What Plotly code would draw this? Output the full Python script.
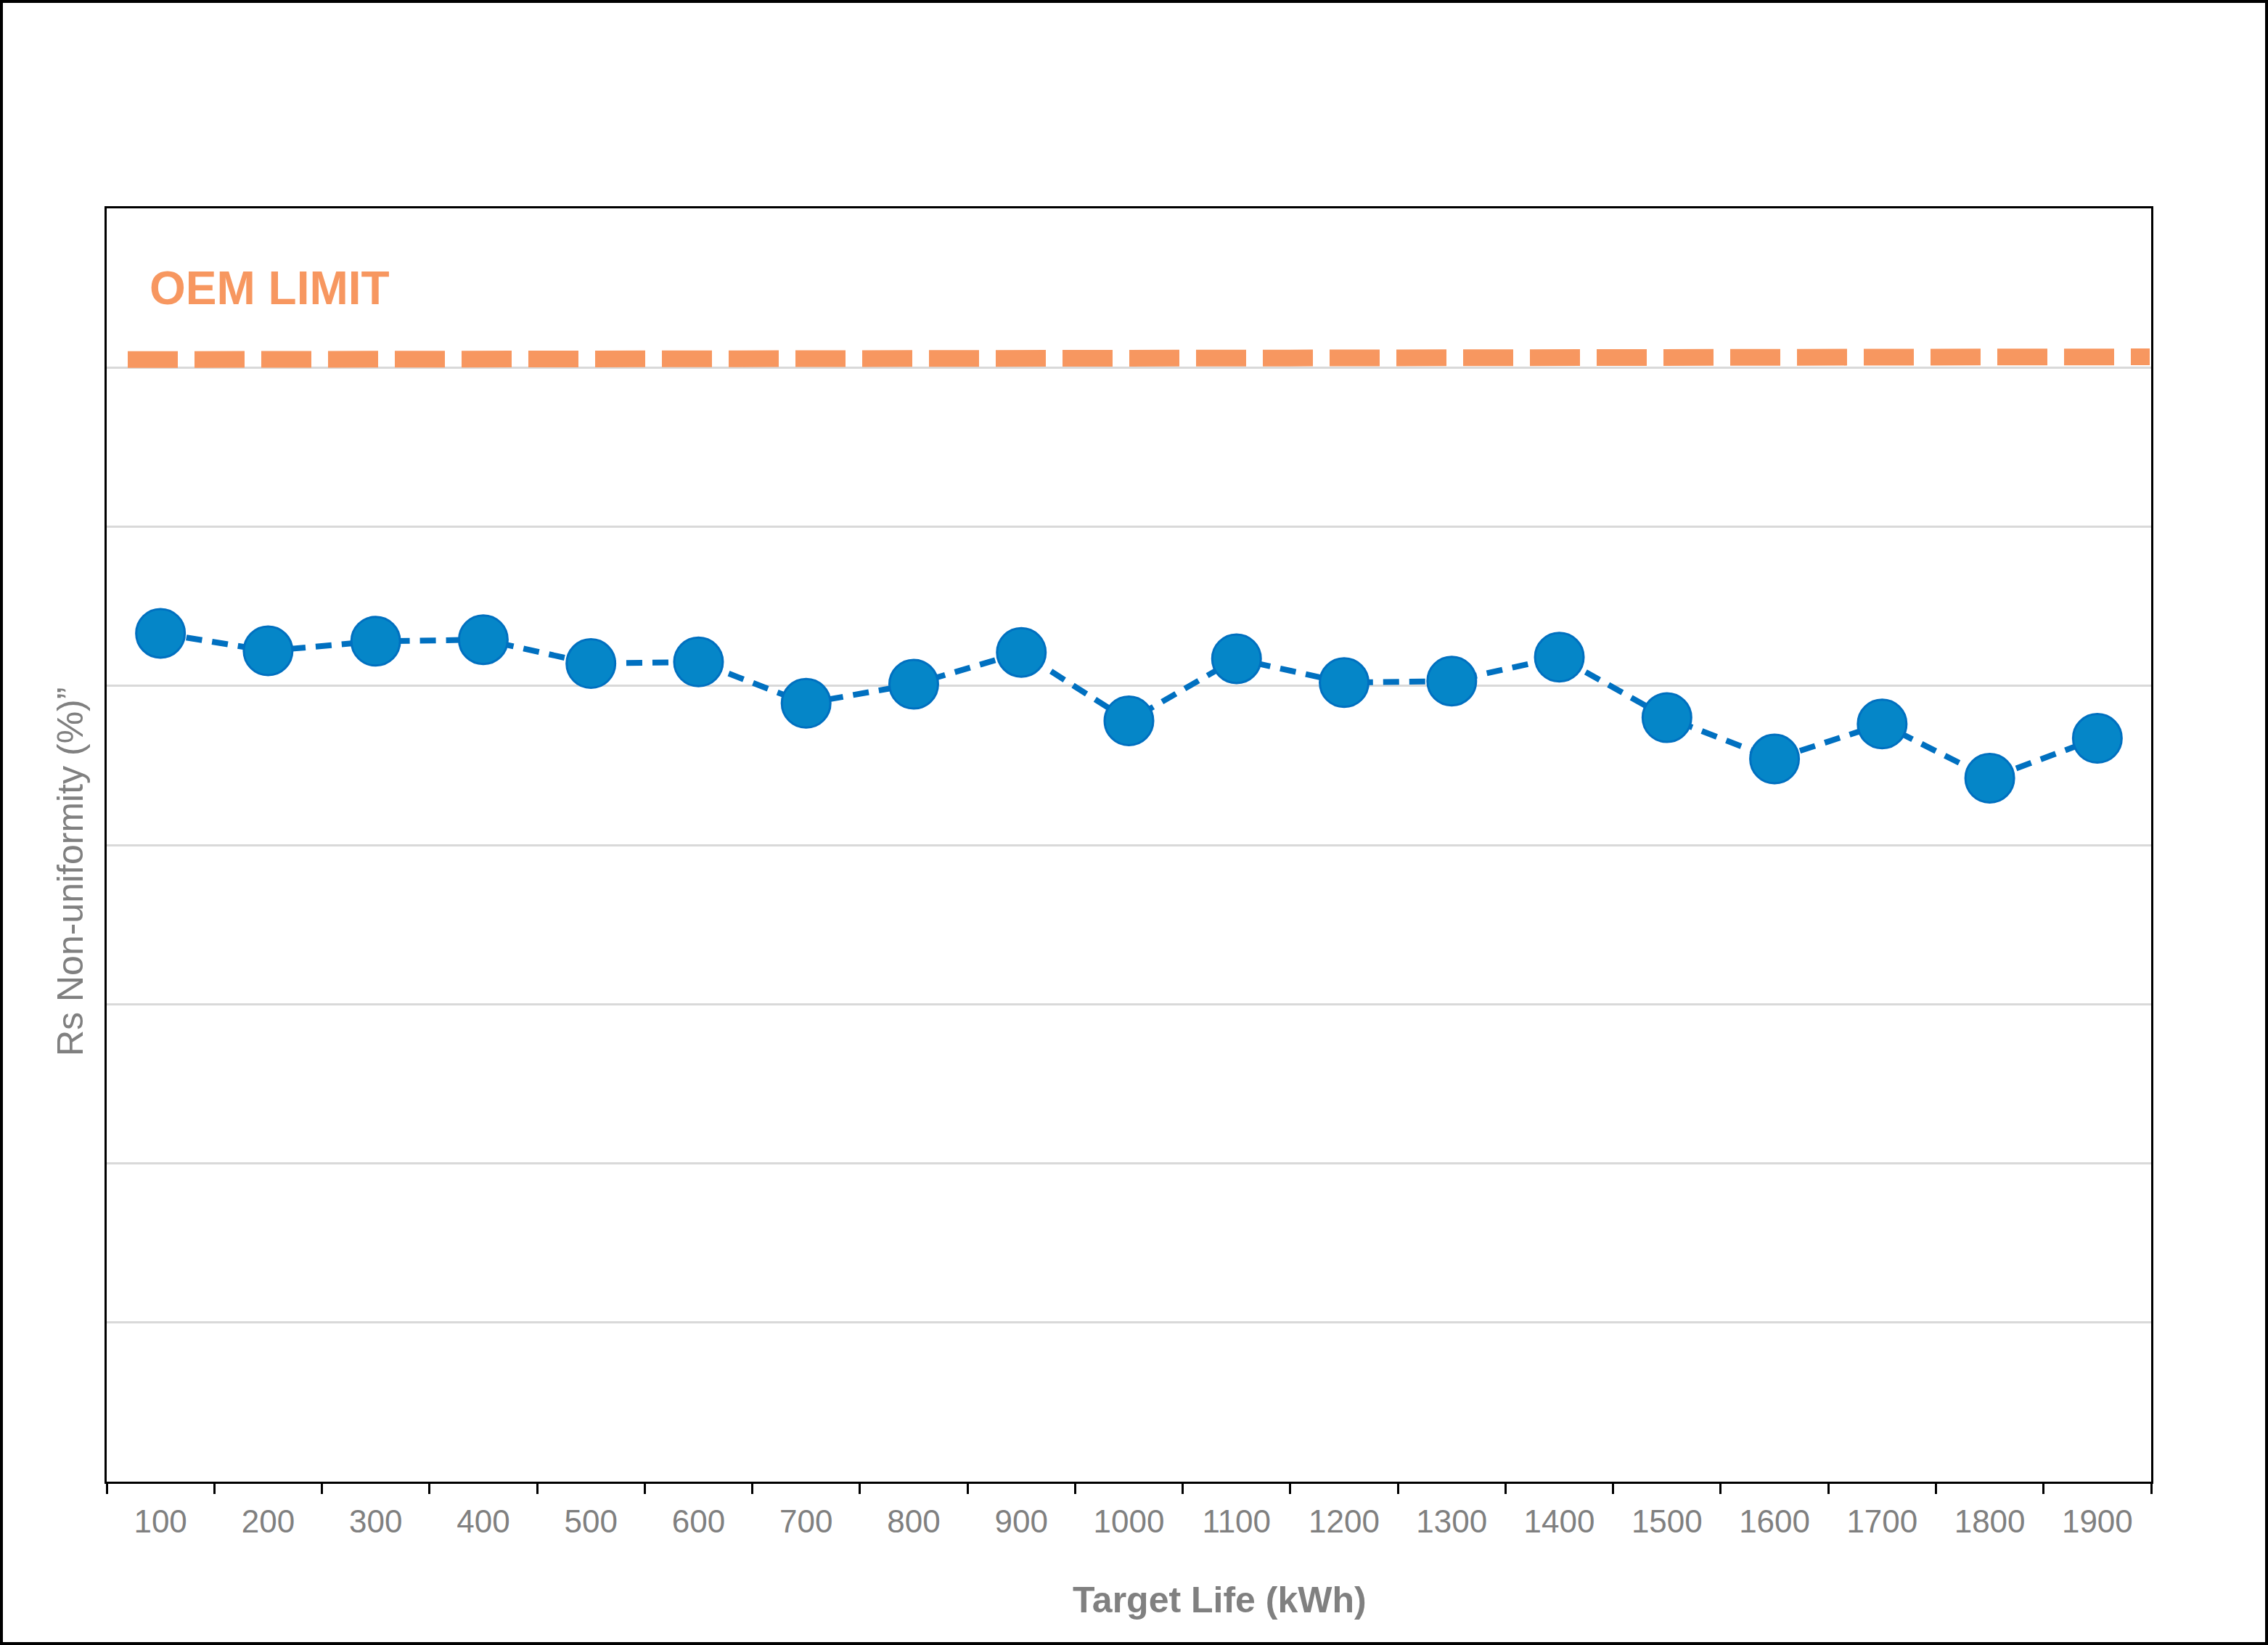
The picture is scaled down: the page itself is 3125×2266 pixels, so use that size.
import plotly.graph_objects as go

# ---- data ----
target_life = ["100", "200", "300", "400", "500", "600", "700", "800", "900", "1000",
               "1100", "1200", "1300", "1400", "1500", "1600", "1700", "1800", "1900"]
rs_nonuniformity = [5.33, 5.22, 5.28, 5.29, 5.14, 5.15, 4.89, 5.01, 5.21, 4.78,
                    5.17, 5.02, 5.03, 5.18, 4.80, 4.54, 4.76, 4.42, 4.67]
oem_limit_start = 7.05
oem_limit_end = 7.067
y_min, y_max, y_step = 0, 8, 1

# ---- layout geometry ----
W, H = 3125, 2266
ML, MR, MT, MB = 147, 161, 287, 225
PW, PH = W - ML - MR, H - MT - MB


def px_x(px):
    return (px - ML) / PW


def px_y(py):
    return (H - MB - py) / PH


FONT = "Arial, Liberation Sans, sans-serif"
GRAY = "#808080"
ORANGE = "#F79760"

fig = go.Figure()
fig.add_trace(go.Scatter(
    x=target_life, y=rs_nonuniformity,
    mode="lines+markers",
    line=dict(color="#0070C0", width=8, dash="22px,14px"),
    marker=dict(size=67, color="#0586C8", line=dict(color="#0070C0", width=3)),
    showlegend=False, hoverinfo="x+y",
))

shapes = [
    # OEM limit dashed line
    dict(type="line", xref="paper", yref="y",
         x0=px_x(176), x1=px_x(2962), y0=oem_limit_start, y1=oem_limit_end,
         line=dict(color=ORANGE, width=23, dash="69px,23px")),
    # outer figure border
    dict(type="rect", xref="paper", yref="paper",
         x0=px_x(2), x1=px_x(W - 2), y0=px_y(H - 2), y1=px_y(2),
         line=dict(color="black", width=4), fillcolor="rgba(0,0,0,0)", layer="above"),
]

annotations = [
    dict(text="<b>OEM LIMIT</b>", xref="paper", yref="paper",
         x=px_x(204), y=px_y(397), xanchor="left", yanchor="middle",
         showarrow=False, font=dict(family=FONT, size=64, color=ORANGE)),
    dict(text="<b>Target Life (kWh)</b>", xref="paper", yref="paper",
         x=px_x(1680), y=px_y(2204), xanchor="center", yanchor="middle",
         showarrow=False, font=dict(family=FONT, size=50, color=GRAY)),
    dict(text="Rs Non-uniformity (%)\u201d", xref="paper", yref="paper",
         x=px_x(97), y=px_y(1201), xanchor="center", yanchor="middle",
         textangle=-90, showarrow=False, font=dict(family=FONT, size=50, color=GRAY)),
]

fig.update_layout(
    width=W, height=H,
    margin=dict(l=ML, r=MR, t=MT, b=MB, pad=0),
    paper_bgcolor="white", plot_bgcolor="white",
    font=dict(family=FONT, color=GRAY),
    shapes=shapes, annotations=annotations,
    xaxis=dict(
        type="category", categoryorder="array", categoryarray=target_life,
        range=[-0.5, len(target_life) - 0.5],
        tickson="boundaries", ticks="outside", ticklen=14, tickwidth=3, tickcolor="black",
        showline=True, linecolor="black", linewidth=3, mirror=True,
        showgrid=False, zeroline=False,
        tickfont=dict(family=FONT, size=44, color=GRAY),
        ticklabelstandoff=14,
    ),
    yaxis=dict(
        range=[y_min, y_max], dtick=y_step, tick0=y_min,
        showticklabels=False, ticks="",
        showline=True, linecolor="black", linewidth=3, mirror=True,
        showgrid=True, gridcolor="#D9D9D9", gridwidth=3, zeroline=False,
    ),
)

fig.write_html("out.html", config={"displayModeBar": False},
               post_script="document.body.style.margin='0';")
